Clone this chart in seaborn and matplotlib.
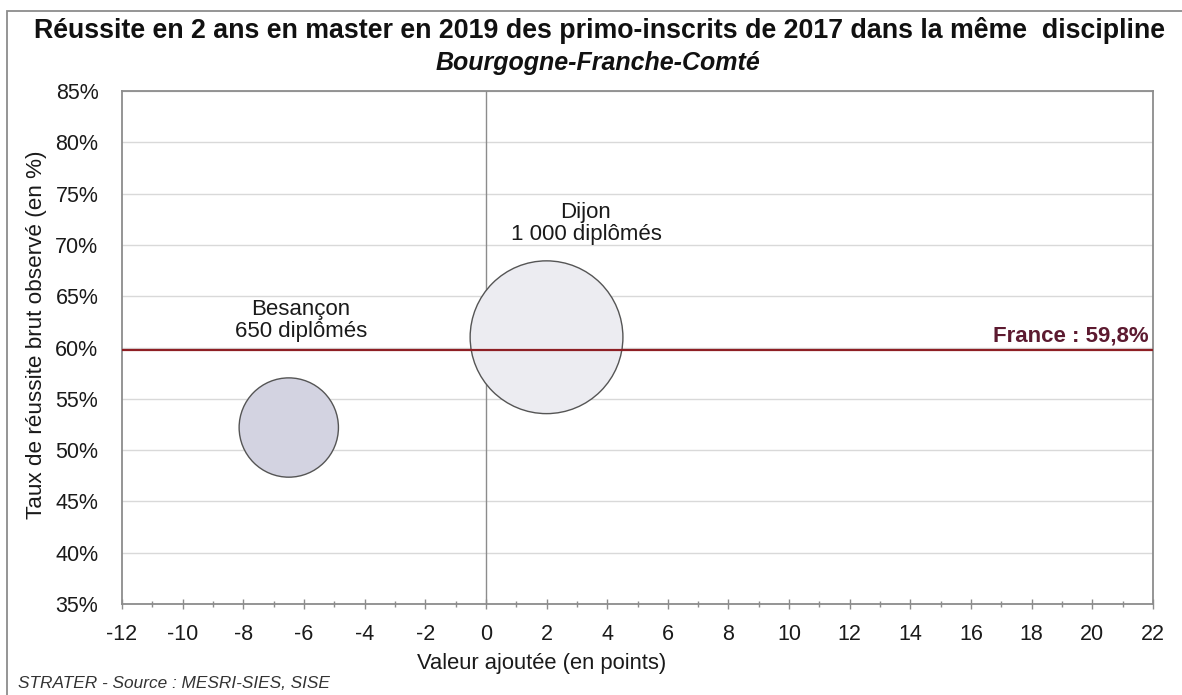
import numpy as np
import pandas as pd
import seaborn as sns
import matplotlib
matplotlib.use("Agg")
import matplotlib.pyplot as plt
from matplotlib.patches import Rectangle
from matplotlib.ticker import MultipleLocator, FuncFormatter

# ---- data ----
villes = ["Besançon", "Dijon"]
valeur_ajoutee = [-6.5, 2.0]
taux_reussite = [52.2, 61.0]
diplomes = [650, 1000]
etiquettes = ["Besançon\n650 diplômés", "Dijon\n1 000 diplômés"]
france_taux = 59.8
france_label = "France : 59,8%"
x_ticks = list(range(-12, 23, 2))
y_ticks = list(range(35, 86, 5))

title = "Réussite en 2 ans en master en 2019 des primo-inscrits de 2017 dans la même  discipline"
subtitle = "Bourgogne-Franche-Comté"
xlabel = "Valeur ajoutée (en points)"
ylabel = "Taux de réussite brut observé (en %)"
source = "STRATER - Source : MESRI-SIES, SISE"

# ---- styling ----
sns.set_theme(style="white")
plt.rcParams["font.family"] = ["Liberation Sans", "DejaVu Sans"]

W, H, DPI = 1182, 695, 100
fig = plt.figure(figsize=(W / DPI, H / DPI), dpi=DPI)
fig.patch.set_facecolor("white")
ax = fig.add_axes([122 / W, 1 - 604 / H, (1153 - 122) / W, (604 - 91) / H])

df = pd.DataFrame({"ville": villes, "va": valeur_ajoutee,
                   "taux": taux_reussite, "n": diplomes})

# bubble diameter proportional to number of graduates (Excel "width" mode)
pt_per_grad = 110.0 / 1000.0
size_map = {n: (n * pt_per_grad) ** 2 for n in diplomes}
fill_colors = {"Besançon": "#D3D3E1", "Dijon": "#ECECF1"}

ax.set_xlim(-12, 22)
ax.set_ylim(35, 85)

# grid & zero line
for yv in y_ticks:
    ax.axhline(yv, color="#D9D9D9", lw=1.0, zorder=0)
ax.axvline(0, color="#8C8C8C", lw=1.0, zorder=1)

sns.scatterplot(data=df, x="va", y="taux", hue="ville", palette=fill_colors,
                size="n", sizes=size_map, edgecolor="#555555", linewidth=1.0,
                legend=False, ax=ax, zorder=2, alpha=1)

ax.axhline(france_taux, color="#8E1F24", lw=1.6, zorder=3)
ax.text(21.85, france_taux + 0.3, france_label, ha="right", va="bottom",
        fontsize=16, fontweight="bold", color="#5C1A30", zorder=4)

label_pos = [(-6.1, 62.6), (3.3, 72.1)]
for txt, (lx, ly) in zip(etiquettes, label_pos):
    ax.text(lx, ly, txt, ha="center", va="center", fontsize=16,
            color="#1a1a1a", linespacing=1.05, zorder=4)

ax.set_xticks(x_ticks)
ax.xaxis.set_minor_locator(MultipleLocator(1))
ax.set_yticks(y_ticks)
ax.yaxis.set_major_formatter(FuncFormatter(lambda v, p: f"{v:.0f}%"))
ax.xaxis.set_major_formatter(FuncFormatter(lambda v, p: f"{v:.0f}"))
ax.tick_params(axis="x", which="major", direction="inout", length=7, width=1,
               color="#8C8C8C", labelsize=15.5, pad=11, labelcolor="#1a1a1a", bottom=True)
ax.tick_params(axis="x", which="minor", direction="inout", length=5, width=1,
               color="#8C8C8C", bottom=True)
ax.tick_params(axis="y", which="major", length=0, labelsize=15.5, pad=17,
               labelcolor="#1a1a1a")
ax.set_xlabel("")
ax.set_ylabel("")
for s in ax.spines.values():
    s.set_visible(True)
    s.set_color("#8C8C8C")
    s.set_linewidth(1.3)

fig.text(599 / W, 1 - 30 / H, title, ha="center", va="center",
         fontsize=19.3, fontweight="bold", color="#111111")
fig.text(598 / W, 1 - 63 / H, subtitle, ha="center", va="center",
         fontsize=18, fontweight="bold", fontstyle="italic", color="#111111")
fig.text(542 / W, 1 - 664 / H, xlabel, ha="center", va="center",
         fontsize=15.8, color="#1a1a1a")
fig.text(37 / W, 1 - 335 / H, ylabel, ha="center", va="center",
         rotation=90, fontsize=16.2, color="#1a1a1a")
fig.text(18 / W, 1 - 683 / H, source, ha="left", va="center",
         fontsize=12.4, fontstyle="italic", color="#333333")

fig.add_artist(Rectangle((7 / W, -0.1), 1.2, 1.1 - 11 / H + 0.0,
                         transform=fig.transFigure, fill=False,
                         edgecolor="#8C8C8C", lw=1.3, clip_on=False))

fig.savefig("out.png", dpi=DPI)
